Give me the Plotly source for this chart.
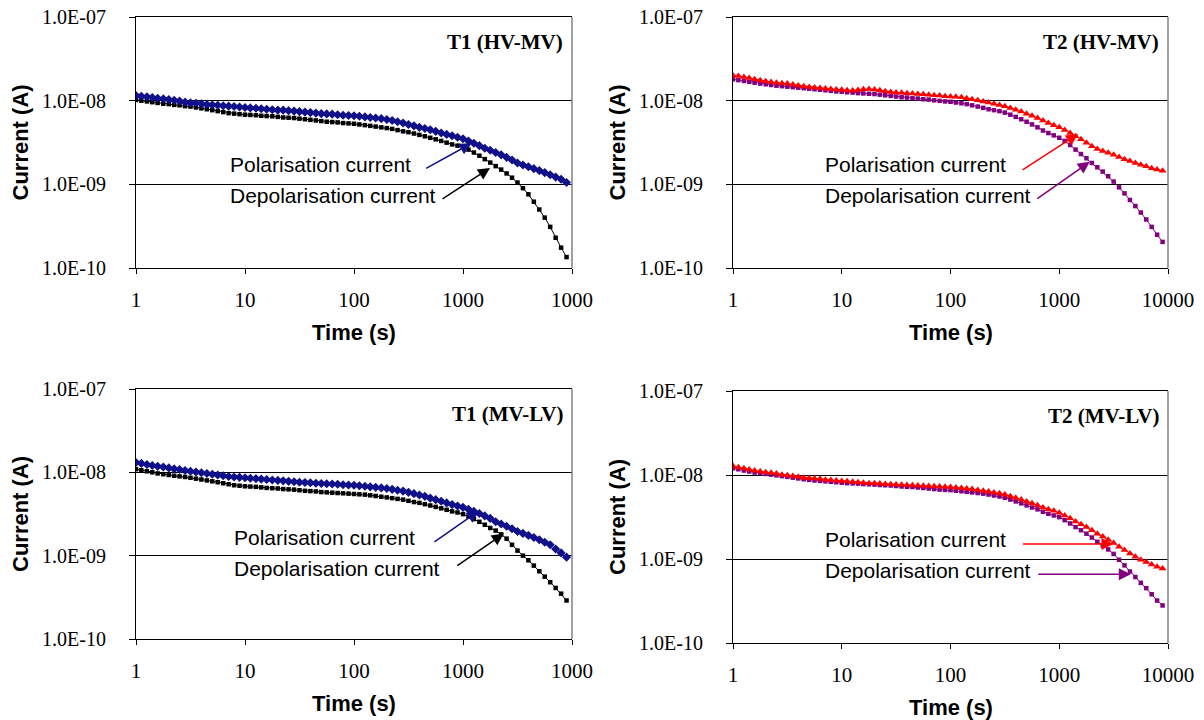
import math
import plotly.graph_objects as go

# ---------------- data (time in s, currents in nA) ----------------
time_s = [1, 1.12, 1.26, 1.41, 1.58, 1.78, 2.0, 2.24, 2.51, 2.82,
          3.16, 3.55, 3.98, 4.47, 5.01, 5.62, 6.31, 7.08, 7.94, 8.91,
          10, 11.2, 12.6, 14.1, 15.8, 17.8, 20, 22.4, 25.1, 28.2,
          31.6, 35.5, 39.8, 44.7, 50.1, 56.2, 63.1, 70.8, 79.4, 89.1,
          100, 112, 126, 141, 158, 178, 200, 224, 251, 282,
          316, 355, 398, 447, 501, 562, 631, 708, 794, 891,
          1000, 1122, 1259, 1413, 1585, 1778, 1995, 2239, 2512, 2818,
          3162, 3548, 3981, 4467, 5012, 5623, 6310, 7079, 7943, 8913]

t1_hvmv_pol_nA = [11.5, 11.3, 11.1, 10.9, 10.7, 10.5, 10.3, 10.1, 9.9, 9.6,
                  9.4, 9.3, 9.2, 9.0, 8.9, 8.8, 8.7, 8.6, 8.5, 8.4,
                  8.3, 8.2, 8.1, 8.0, 7.9, 7.8, 7.7, 7.7, 7.6, 7.5,
                  7.4, 7.3, 7.2, 7.1, 7.0, 6.95, 6.9, 6.8, 6.7, 6.65,
                  6.6, 6.5, 6.4, 6.3, 6.2, 6.1, 5.95, 5.8, 5.6, 5.4,
                  5.2, 5.0, 4.8, 4.65, 4.5, 4.3, 4.1, 3.95, 3.8, 3.65,
                  3.5, 3.3, 3.1, 2.9, 2.7, 2.55, 2.4, 2.25, 2.1, 1.95,
                  1.8, 1.7, 1.62, 1.54, 1.46, 1.38, 1.3, 1.22, 1.15, 1.05]
t1_hvmv_depol_nA = [10.2, 10.0, 9.8, 9.6, 9.4, 9.2, 9.1, 8.9, 8.8, 8.6,
                    8.5, 8.3, 8.1, 7.9, 7.7, 7.5, 7.3, 7.1, 7.0, 6.9,
                    6.8, 6.75, 6.7, 6.6, 6.55, 6.5, 6.4, 6.3, 6.25, 6.2,
                    6.1, 6.0, 5.9, 5.8, 5.7, 5.6, 5.55, 5.5, 5.4, 5.35,
                    5.3, 5.2, 5.1, 5.0, 4.9, 4.8, 4.7, 4.6, 4.45, 4.3,
                    4.2, 4.05, 3.9, 3.75, 3.6, 3.45, 3.3, 3.15, 3.0, 2.9,
                    2.8, 2.6, 2.4, 2.2, 2.0, 1.82, 1.65, 1.5, 1.35, 1.2,
                    1.05, 0.9, 0.76, 0.62, 0.5, 0.4, 0.31, 0.23, 0.175, 0.135]
t2_hvmv_pol_nA = [20.0, 19.7, 19.2, 18.6, 18.0, 17.5, 17.1, 16.7, 16.4, 16.2,
                  16.0, 15.6, 15.2, 14.9, 14.6, 14.4, 14.2, 14.0, 13.8, 13.6,
                  13.5, 13.3, 13.2, 13.4, 13.7, 13.8, 13.6, 13.3, 13.0, 12.7,
                  12.5, 12.4, 12.3, 12.2, 12.0, 11.9, 11.8, 11.6, 11.5, 11.3,
                  11.2, 11.1, 11.0, 10.7, 10.4, 10.1, 9.8, 9.5, 9.2, 8.9,
                  8.6, 8.2, 7.8, 7.4, 7.0, 6.6, 6.2, 5.8, 5.4, 5.1,
                  4.8, 4.45, 4.1, 3.75, 3.45, 3.15, 2.85, 2.65, 2.5, 2.38,
                  2.25, 2.12, 2.0, 1.9, 1.8, 1.72, 1.64, 1.56, 1.5, 1.45]
t2_hvmv_depol_nA = [18.0, 17.6, 17.2, 16.8, 16.4, 16.0, 15.7, 15.4, 15.1, 14.9,
                    14.7, 14.5, 14.3, 14.1, 13.9, 13.7, 13.5, 13.3, 13.1, 12.9,
                    12.8, 12.6, 12.5, 12.3, 12.2, 12.1, 12.0, 11.8, 11.6, 11.4,
                    11.2, 11.0, 10.9, 10.7, 10.6, 10.4, 10.3, 10.1, 9.95, 9.8,
                    9.7, 9.5, 9.3, 9.1, 8.8, 8.5, 8.2, 7.9, 7.7, 7.5,
                    7.2, 6.8, 6.4, 6.0, 5.6, 5.2, 4.8, 4.4, 4.1, 3.85,
                    3.6, 3.3, 2.95, 2.6, 2.3, 2.05, 1.8, 1.6, 1.42, 1.25,
                    1.08, 0.92, 0.78, 0.65, 0.55, 0.46, 0.38, 0.31, 0.25, 0.205]
t1_mvlv_pol_nA = [13.1, 12.8, 12.4, 12.1, 11.8, 11.6, 11.3, 11.0, 10.8, 10.5,
                  10.3, 10.1, 9.9, 9.7, 9.5, 9.3, 9.1, 8.9, 8.8, 8.7,
                  8.6, 8.5, 8.4, 8.3, 8.2, 8.1, 8.0, 7.9, 7.8, 7.7,
                  7.6, 7.55, 7.5, 7.4, 7.35, 7.3, 7.25, 7.2, 7.1, 7.05,
                  7.0, 6.9, 6.8, 6.7, 6.6, 6.5, 6.4, 6.25, 6.1, 5.95,
                  5.75, 5.55, 5.35, 5.15, 4.9, 4.7, 4.5, 4.3, 4.1, 3.95,
                  3.8, 3.6, 3.4, 3.2, 3.0, 2.8, 2.55, 2.4, 2.25, 2.1,
                  1.95, 1.85, 1.75, 1.65, 1.55, 1.45, 1.35, 1.2, 1.08, 0.96]
t1_mvlv_depol_nA = [10.9, 10.6, 10.3, 10.0, 9.7, 9.5, 9.3, 9.1, 8.95, 8.8,
                    8.6, 8.4, 8.2, 8.0, 7.8, 7.6, 7.4, 7.2, 7.0, 6.9,
                    6.8, 6.75, 6.7, 6.6, 6.5, 6.45, 6.4, 6.3, 6.25, 6.2,
                    6.1, 6.0, 5.95, 5.9, 5.8, 5.75, 5.7, 5.65, 5.6, 5.55,
                    5.5, 5.45, 5.4, 5.3, 5.2, 5.1, 5.0, 4.9, 4.8, 4.7,
                    4.55, 4.4, 4.3, 4.15, 4.0, 3.85, 3.7, 3.55, 3.4, 3.3,
                    3.15, 2.95, 2.75, 2.55, 2.35, 2.15, 2.0, 1.8, 1.6, 1.35,
                    1.15, 1.0, 0.88, 0.76, 0.65, 0.56, 0.48, 0.41, 0.35, 0.29]
t2_mvlv_pol_nA = [12.8, 12.4, 12.0, 11.6, 11.3, 11.0, 10.8, 10.6, 10.4, 10.1,
                  9.9, 9.7, 9.5, 9.3, 9.2, 9.1, 9.0, 8.8, 8.7, 8.6,
                  8.5, 8.4, 8.3, 8.2, 8.1, 8.0, 7.95, 7.9, 7.8, 7.75,
                  7.7, 7.65, 7.6, 7.55, 7.5, 7.45, 7.4, 7.35, 7.3, 7.25,
                  7.2, 7.1, 7.0, 6.9, 6.8, 6.65, 6.5, 6.35, 6.2, 6.05,
                  5.85, 5.6, 5.35, 5.1, 4.85, 4.6, 4.35, 4.1, 3.9, 3.75,
                  3.55, 3.3, 3.05, 2.8, 2.6, 2.4, 2.2, 2.0, 1.85, 1.7,
                  1.55, 1.4, 1.28, 1.16, 1.06, 0.98, 0.92, 0.86, 0.81, 0.77]
t2_mvlv_depol_nA = [12.0, 11.7, 11.3, 11.0, 10.7, 10.5, 10.3, 10.1, 9.9, 9.7,
                    9.5, 9.3, 9.1, 8.9, 8.75, 8.6, 8.5, 8.4, 8.3, 8.2,
                    8.1, 8.0, 7.95, 7.9, 7.8, 7.75, 7.7, 7.6, 7.55, 7.5,
                    7.4, 7.3, 7.25, 7.2, 7.1, 7.0, 6.9, 6.8, 6.7, 6.65,
                    6.6, 6.5, 6.4, 6.3, 6.2, 6.1, 6.0, 5.85, 5.7, 5.55,
                    5.35, 5.1, 4.85, 4.6, 4.35, 4.1, 3.9, 3.65, 3.45, 3.3,
                    3.15, 2.9, 2.65, 2.4, 2.2, 2.0, 1.8, 1.6, 1.45, 1.3,
                    1.15, 0.98, 0.84, 0.71, 0.61, 0.52, 0.45, 0.38, 0.32, 0.28]

panel_titles = ["T1 (HV-MV)", "T2 (HV-MV)", "T1 (MV-LV)", "T2 (MV-LV)"]
x_tickvals = [1, 10, 100, 1000, 10000]
x_ticktext_left = ["1", "10", "100", "1000", "1000"]
x_ticktext_right = ["1", "10", "100", "1000", "10000"]
y_tickvals = [1e-10, 1e-9, 1e-8, 1e-7]
y_ticktext = ["1.0E-10", "1.0E-09", "1.0E-08", "1.0E-07"]
pol_label = "Polarisation current"
depol_label = "Depolarisation current"

# arrow heads (time, current A) pointing at the curves
arrow_heads = [
    [(1200, 3.1e-9), (1770, 1.57e-9)],
    [(1490, 4.0e-9), (1910, 1.86e-9)],
    [(1400, 3.45e-9), (2370, 1.84e-9)],
    [(3150, 1.51e-9), (4550, 0.66e-9)],
]
arrow_tails_px = [
    [(-47, 26), (-49, 32)],
    [(-57, 37), (-54, 38)],
    [(-46, 32), (-48, 33)],
    [(-92, 0), (-94, 0)],
]

W, H = 1204, 720
# plot areas in pixels: (left, right, top, bottom)
areas = [(136, 572, 17, 268), (733, 1168, 17, 268),
         (136, 572, 389, 639), (733, 1168, 391, 643)]

series = [
    (t1_hvmv_pol_nA, t1_hvmv_depol_nA, "#10108a", "#000000", "diamond", "square"),
    (t2_hvmv_pol_nA, t2_hvmv_depol_nA, "#ff0000", "#800080", "triangle-up", "square"),
    (t1_mvlv_pol_nA, t1_mvlv_depol_nA, "#10108a", "#000000", "diamond", "square"),
    (t2_mvlv_pol_nA, t2_mvlv_depol_nA, "#ff0000", "#800080", "triangle-up", "square"),
]

fig = go.Figure()
layout = dict(width=W, height=H,
              margin=dict(l=0, r=0, t=0, b=0, pad=0, autoexpand=False),
              paper_bgcolor="white", plot_bgcolor="white", showlegend=False)
annotations = []
shapes = []

serif = "Liberation Serif, Times New Roman, serif"
sans = "Liberation Sans, Arial, sans-serif"

for i in range(4):
    n = i + 1
    sx = "" if n == 1 else str(n)
    xa, ya = "x" + sx, "y" + sx
    pol, depol, pc, dc, psym, dsym = series[i]
    fig.add_trace(go.Scatter(
        x=time_s, y=[v * 1e-9 for v in depol], xaxis=xa, yaxis=ya,
        mode="lines+markers", line=dict(color=dc, width=1),
        marker=dict(symbol=dsym, size=4.5, color=dc)))
    fig.add_trace(go.Scatter(
        x=time_s, y=[v * 1e-9 for v in pol], xaxis=xa, yaxis=ya,
        mode="lines+markers", line=dict(color=pc, width=1),
        marker=dict(symbol=psym, size=7, color=pc)))

    l, r, t, b = areas[i]
    layout["xaxis" + sx] = dict(
        type="log", range=[0, 4], domain=[l / W, r / W], anchor=ya,
        tickvals=x_tickvals,
        ticktext=x_ticktext_left if i % 2 == 0 else x_ticktext_right,
        ticks="outside", ticklen=5, tickcolor="black", tickwidth=1,
        showline=True, linecolor="black", linewidth=1, mirror=True,
        showgrid=False, zeroline=False, ticklabelstandoff=8, automargin=False,
        tickfont=dict(family=serif, size=21, color="black"))
    layout["yaxis" + sx] = dict(
        type="log", range=[-10, -7], domain=[1 - b / H, 1 - t / H], anchor=xa,
        tickvals=y_tickvals, ticktext=y_ticktext,
        ticks="outside", ticklen=6, tickcolor="black", tickwidth=1,
        showline=True, linecolor="black", linewidth=1,
        showgrid=True, gridcolor="black", gridwidth=1, zeroline=False,
        ticklabelstandoff=19, automargin=False,
        tickfont=dict(family=serif, size=20, color="black"))

    shapes.append(dict(type="line", xref=xa + " domain", yref=ya + " domain",
                       x0=1, x1=1, y0=0, y1=1, line=dict(color="#808080", width=1.5)))

    # panel title
    annotations.append(dict(text="<b>" + panel_titles[i] + "</b>", xref="paper", yref="paper",
                            x=(r - 7) / W, y=1 - (t + 25) / H, xanchor="right", yanchor="middle",
                            showarrow=False, font=dict(family=serif, size=21, color="black")))
    # axis titles
    annotations.append(dict(text="<b>Current (A)</b>", xref="paper", yref="paper",
                            x=(l - 116) / W, y=1 - (t + b) / 2 / H, xanchor="center", yanchor="middle",
                            textangle=-90, showarrow=False,
                            font=dict(family=sans, size=22, color="black")))
    annotations.append(dict(text="<b>Time (s)</b>", xref="paper", yref="paper",
                            x=(l + r) / 2 / W, y=1 - (b + 64) / H, xanchor="center", yanchor="middle",
                            showarrow=False, font=dict(family=sans, size=22, color="black")))
    # curve labels
    tx = 228 if i % 2 == 0 else 823
    if i == 2:
        tx = 232
    annotations.append(dict(text=pol_label, xref="paper", yref="paper",
                            x=tx / W, y=1 - (t + 148) / H, xanchor="left", yanchor="middle",
                            showarrow=False, font=dict(family=sans, size=21, color="black")))
    annotations.append(dict(text=depol_label, xref="paper", yref="paper",
                            x=tx / W, y=1 - (t + 179) / H, xanchor="left", yanchor="middle",
                            showarrow=False, font=dict(family=sans, size=21, color="black")))
    # arrows
    for j, col in enumerate([pc, dc]):
        ht, hv = arrow_heads[i][j]
        ax, ay = arrow_tails_px[i][j]
        annotations.append(dict(text="", x=math.log10(ht), y=math.log10(hv), xref=xa, yref=ya,
                                ax=ax, ay=ay, axref="pixel", ayref="pixel", showarrow=True,
                                arrowhead=2, arrowsize=1.6, arrowwidth=1.5, arrowcolor=col,
                                standoff=0, startstandoff=0))

layout["annotations"] = annotations
layout["shapes"] = shapes
fig.update_layout(**layout)
fig.write_html("out.html",
               config={"displayModeBar": False},
               post_script="document.body.style.margin='0px';document.body.style.overflow='hidden';")
